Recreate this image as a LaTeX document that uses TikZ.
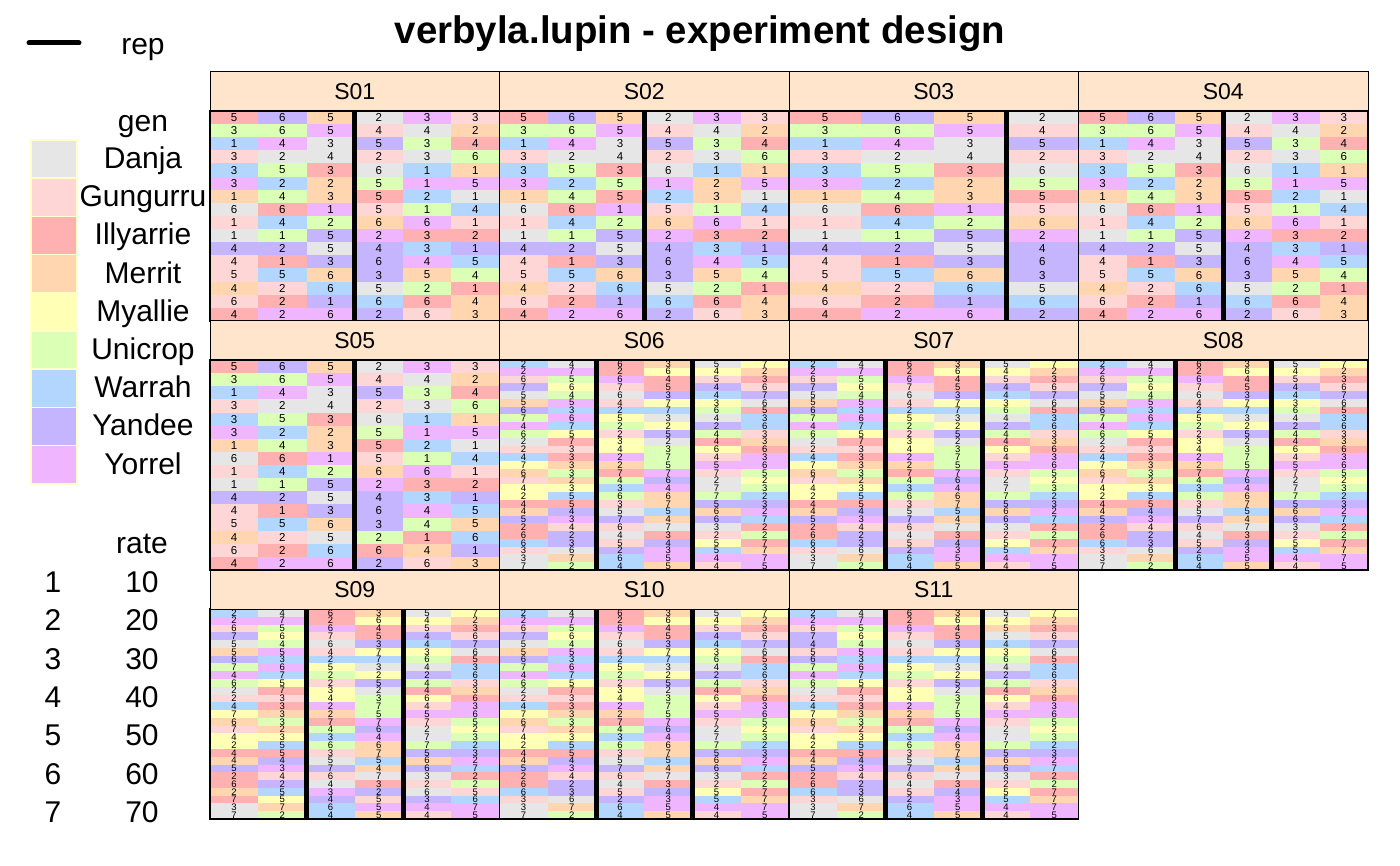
\documentclass[tikz,border=0pt]{standalone}
\usepackage{fontspec}
\setmainfont{Liberation Sans}
\definecolor{cD}{HTML}{E6E6E6}
\definecolor{cG}{HTML}{FFD6D6}
\definecolor{cI}{HTML}{FFB0B0}
\definecolor{cM}{HTML}{FFD6B0}
\definecolor{cY}{HTML}{FFFFB5}
\definecolor{cU}{HTML}{DAFFB5}
\definecolor{cW}{HTML}{B3D6FF}
\definecolor{cA}{HTML}{C5B5FF}
\definecolor{cO}{HTML}{F0B5FF}
\definecolor{stripbg}{HTML}{FFE5CC}
\definecolor{legbd}{HTML}{FFFFCC}

\def\dataA{%
{5/I,6/A,5/M,2/D,3/O,3/G},%
{3/U,6/U,5/O,4/G,4/D,2/M},%
{1/W,4/O,3/D,5/A,3/U,4/I},%
{3/G,2/D,4/D,2/G,3/D,6/U},%
{3/W,5/U,3/I,6/D,1/W,1/M},%
{3/O,2/W,2/M,5/U,1/O,5/O},%
{1/M,4/U,3/M,5/I,2/W,1/D},%
{6/D,6/I,1/O,5/G,1/U,4/W},%
{1/G,4/W,2/U,6/M,6/O,1/G},%
{1/D,1/U,5/A,2/O,3/I,2/I},%
{4/A,2/A,5/D,4/A,3/W,1/A},%
{4/G,1/I,3/A,6/A,4/O,5/W},%
{5/G,5/W,6/M,3/A,5/M,4/U},%
{4/M,2/G,6/W,5/D,2/U,1/I},%
{6/G,2/I,1/A,6/W,6/I,4/M},%
{4/I,2/O,6/O,2/A,6/G,3/M}}

\def\dataE{%
{5/I,6/A,5/M,2/D,3/O,3/G},%
{3/U,6/U,5/O,4/G,4/D,2/M},%
{1/W,4/O,3/D,5/A,3/U,4/I},%
{3/G,2/D,4/D,2/G,3/D,6/U},%
{3/W,5/U,3/I,6/D,1/W,1/M},%
{3/O,2/W,5/U,1/O,2/M,5/O},%
{1/M,4/U,5/I,2/W,3/M,1/D},%
{6/D,6/I,1/O,5/G,1/U,4/W},%
{1/G,4/W,2/U,6/M,6/O,1/G},%
{1/D,1/U,5/A,2/O,3/I,2/I},%
{4/A,2/A,5/D,4/A,3/W,1/A},%
{4/G,1/I,3/A,6/A,4/O,5/W},%
{5/G,5/W,6/M,3/A,5/M,4/U},%
{4/M,2/G,6/W,5/D,2/U,1/I},%
{6/G,2/I,1/A,6/W,6/I,4/M},%
{4/I,2/O,6/O,2/A,6/G,3/M}}

\def\dataF{%
{5/I,6/A,5/M,2/D,3/O,3/G},%
{3/U,6/U,5/O,4/G,4/D,2/M},%
{1/W,4/O,3/D,5/A,3/U,4/I},%
{3/G,2/D,4/D,2/G,3/D,6/U},%
{3/W,5/U,3/I,6/D,1/W,1/M},%
{3/O,2/W,2/M,5/U,1/O,5/O},%
{1/M,4/U,3/M,5/I,2/W,1/D},%
{6/D,6/I,1/O,5/G,1/U,4/W},%
{1/G,4/W,2/U,6/M,6/O,1/G},%
{1/D,1/U,5/A,2/O,3/I,2/I},%
{4/A,2/A,5/D,4/A,3/W,1/A},%
{4/G,1/I,3/A,6/A,4/O,5/W},%
{5/G,5/W,6/M,3/A,4/U,5/M},%
{4/M,2/G,5/D,2/U,1/I,6/W},%
{6/G,2/I,6/W,6/I,4/M,1/A},%
{4/I,2/O,6/O,2/A,6/G,3/M}}

\def\dataB{%
{2/W,4/D,6/I,3/M,5/D,7/Y},%
{2/O,7/O,2/I,6/Y,4/Y,2/M},%
{6/G,5/U,6/O,4/I,5/G,3/I},%
{7/A,6/Y,7/G,5/I,4/A,6/G},%
{5/D,4/U,6/D,3/A,4/W,7/A},%
{5/M,5/O,4/G,7/Y,3/Y,6/D},%
{6/A,3/W,2/W,7/W,6/U,5/I},%
{7/U,6/O,5/Y,3/D,4/D,3/W},%
{4/O,7/W,2/U,2/Y,2/A,6/W},%
{6/U,5/Y,2/G,5/A,4/U,3/G},%
{2/D,7/I,3/Y,2/D,4/I,3/M},%
{2/G,3/G,4/Y,3/U,6/Y,6/I},%
{4/W,3/I,2/O,7/U,4/G,3/O},%
{7/Y,3/M,2/M,5/U,5/O,6/O},%
{6/M,3/U,7/I,7/O,7/G,5/U},%
{7/G,2/M,4/U,6/A,2/D,2/Y},%
{4/Y,3/Y,3/W,4/O,7/D,3/U},%
{2/Y,5/W,6/U,6/M,7/U,2/W},%
{4/I,5/I,3/G,7/M,5/A,3/A},%
{4/M,4/A,5/D,5/W,6/M,2/O},%
{5/A,3/O,7/A,4/M,6/A,7/W},%
{2/I,4/G,6/G,7/D,3/D,2/I},%
{6/I,2/A,4/D,3/I,2/G,2/U},%
{6/W,3/A,5/G,4/A,5/Y,7/I},%
{3/G,6/D,2/A,3/O,5/W,7/M},%
{3/D,7/M,6/W,5/O,4/O,7/O},%
{7/D,2/U,4/W,5/M,4/G,5/O}}

\def\dataC{%
{2/W,4/D,6/I,3/M,5/D,7/Y},%
{2/O,7/O,2/I,6/Y,4/Y,2/M},%
{6/G,5/U,6/O,4/I,5/G,3/I},%
{7/A,6/Y,7/G,5/I,4/A,6/G},%
{5/D,4/U,6/D,3/A,4/W,7/A},%
{5/M,5/O,4/G,7/Y,3/Y,6/D},%
{6/A,3/W,2/W,7/W,6/U,5/I},%
{7/U,6/O,5/Y,3/D,4/D,3/W},%
{4/O,7/W,2/U,2/Y,2/A,6/W},%
{6/U,5/Y,2/G,5/A,4/U,3/G},%
{2/D,7/I,3/Y,2/D,4/I,3/M},%
{2/G,3/G,4/Y,3/U,6/Y,6/I},%
{4/W,3/I,2/O,7/U,4/G,3/O},%
{7/Y,3/M,2/M,5/U,5/O,6/O},%
{6/M,3/U,7/I,7/O,7/G,5/U},%
{7/G,2/M,4/U,6/A,2/D,2/Y},%
{4/Y,3/Y,3/W,4/O,7/D,3/U},%
{2/Y,5/W,6/U,6/M,7/U,2/W},%
{4/I,5/I,3/G,7/M,5/A,3/A},%
{4/M,4/A,5/D,5/W,6/M,2/O},%
{5/A,3/O,7/A,4/M,6/A,7/W},%
{2/I,4/G,6/G,7/D,3/D,2/I},%
{6/I,2/A,4/D,3/I,2/G,2/U},%
{2/M,5/W,3/O,2/A,6/D,5/G},%
{7/I,5/Y,4/A,5/G,3/A,6/W},%
{3/D,7/M,6/W,5/O,4/O,7/O},%
{7/D,2/U,4/W,5/M,4/G,5/O}}

\def\dataD{%
{2/W,4/D,6/I,3/M,5/D,7/Y},%
{2/O,7/O,2/I,6/Y,4/Y,2/M},%
{6/G,5/U,6/O,4/I,5/M,3/I},%
{7/A,6/Y,7/G,5/I,5/D,6/G},%
{4/A,4/U,6/D,3/A,4/W,7/A},%
{5/G,5/O,4/G,7/Y,3/Y,6/D},%
{6/A,3/W,2/W,7/W,6/U,5/I},%
{7/U,6/O,5/Y,3/D,4/D,3/W},%
{4/O,7/W,2/U,2/Y,2/A,6/W},%
{6/U,5/Y,2/G,5/A,4/U,3/G},%
{2/D,7/I,3/Y,2/D,4/I,3/M},%
{2/G,3/G,4/Y,3/U,6/Y,6/I},%
{4/W,3/I,2/O,7/U,4/G,3/O},%
{7/Y,3/M,2/M,5/U,5/O,6/O},%
{6/M,3/U,7/I,7/O,7/G,5/U},%
{7/G,2/M,4/U,6/A,2/D,2/Y},%
{4/Y,3/Y,3/W,4/O,7/D,3/U},%
{2/Y,5/W,6/U,6/M,7/U,2/W},%
{4/I,5/I,3/G,7/M,5/A,3/A},%
{4/M,4/A,5/D,5/W,6/M,2/O},%
{5/A,3/O,7/A,4/M,6/A,7/W},%
{2/I,4/G,6/G,7/D,3/D,2/I},%
{6/I,2/A,4/D,3/I,2/G,2/U},%
{6/W,3/A,5/G,4/A,5/Y,7/I},%
{3/G,6/D,2/A,3/O,5/W,7/M},%
{3/D,7/M,6/W,5/O,4/O,7/O},%
{7/D,2/U,4/W,5/M,4/G,5/O}}

\tikzset{
  digitA/.style={font=\fontsize{11.5}{11.5}\selectfont, inner sep=0pt},
  digitB/.style={font=\fontsize{9.5}{9.5}\selectfont, inner sep=0pt},
  repline/.style={line width=5pt, black},
  cellframe/.style={line width=1.3pt, black},
  stripbox/.style={fill=stripbg, draw=black, line width=1pt},
  striplabel/.style={font=\fontsize{23}{23}\selectfont, inner sep=0pt},
  legtext/.style={font=\fontsize{30}{30}\selectfont, inner sep=0pt, anchor=base},
  legbox/.style={draw=legbd, line width=1.4pt},
}

\newcommand\mypanel[8]{%
  \pgfmathsetmacro\ppx{210+289.5*(#2-1)}%
  \pgfmathsetmacro\ppy{72+249*(#3-1)+39}%
  \pgfmathsetmacro\pcw{289.5/#4}%
  \pgfmathsetmacro\prh{210/#5}%
  \foreach \rowdata [count=\ri] in #6 {%
    \foreach \dg/\cl [count=\ci] in \rowdata {%
      \ifnum\ci>#4\relax\else
        \fill[fill=c\cl] ({\ppx+(\ci-1)*\pcw},{\ppy+(\ri-1)*\prh}) rectangle ++(\pcw,\prh);
        \node[#7] (#1-\ri-\ci) at ({\ppx+(\ci-0.5)*\pcw},{\ppy+(\ri-0.5)*\prh}) {\dg};
      \fi
    }%
  }%
  \foreach \bb in {#8} {\draw[repline] ({\ppx+\bb*\pcw},\ppy) -- ++(0,210);}%
  \draw[cellframe] (\ppx,\ppy) rectangle ++(289.5,210);%
  \draw[stripbox] (\ppx,\ppy-39) rectangle ++(289.5,39);%
  \node[striplabel] (#1) at ({\ppx+144.75},{\ppy-19.5}) {#1};%
}

\begin{document}
\begin{tikzpicture}[x=1pt,y=-1pt]
\useasboundingbox (0,0) rectangle (1400,866);
\fill[white] (0,0) rectangle (1400,866);

\node[font=\bfseries\fontsize{38.4}{38.4}\selectfont, inner sep=0pt, anchor=base] (title) at (700,44) {verbyla.lupin - experiment design};

% legend: rep
\coordinate (repA) at (29,43);
\coordinate (repB) at (79,43);
\draw[line width=5pt, line cap=round] (repA) -- (repB);
\node[legtext] (replbl) at (143,55) {rep};

% legend: gen
\node[legtext] (genlbl) at (143,132) {gen};
\foreach \nm/\cl [count=\i from 0] in {Danja/D,Gungurru/G,Illyarrie/I,Merrit/M,Myallie/Y,Unicrop/U,Warrah/W,Yandee/A,Yorrel/O} {
  \draw[legbox, fill=c\cl] (31,{140+38.2*\i}) rectangle ++(46,38.2);
  \node[legtext] (gen-\nm) at (143,{168.5+38.2*\i}) {\nm};
}

% legend: rate
\node[legtext] (ratelbl) at (142,553) {rate};
\foreach \k [count=\i from 0] in {1,...,7} {
  \node[legtext] (rk-\k) at (53,{592.5+38.3*\i}) {\k};
  \node[legtext] (rv-\k) at (142,{592.5+38.3*\i}) {\k0};
}

% panels
\mypanel{S01}{1}{1}{6}{16}{\dataA}{digitA}{3}
\mypanel{S02}{2}{1}{6}{16}{\dataE}{digitA}{3}
\mypanel{S03}{3}{1}{4}{16}{\dataA}{digitA}{3}
\mypanel{S04}{4}{1}{6}{16}{\dataA}{digitA}{3}
\mypanel{S05}{1}{2}{6}{16}{\dataF}{digitA}{3}
\mypanel{S06}{2}{2}{6}{27}{\dataB}{digitB}{2,4}
\mypanel{S07}{3}{2}{6}{27}{\dataB}{digitB}{2,4}
\mypanel{S08}{4}{2}{6}{27}{\dataB}{digitB}{2,4}
\mypanel{S09}{1}{3}{6}{27}{\dataC}{digitB}{2,4}
\mypanel{S10}{2}{3}{6}{27}{\dataB}{digitB}{2,4}
\mypanel{S11}{3}{3}{6}{27}{\dataD}{digitB}{2,4}
\end{tikzpicture}
\end{document}
